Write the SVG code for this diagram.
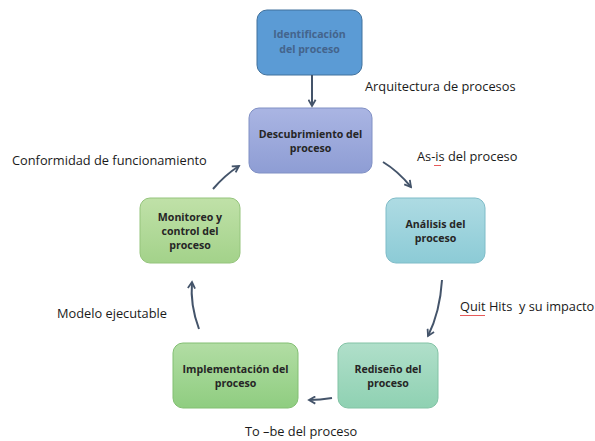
<svg xmlns="http://www.w3.org/2000/svg" width="595" height="441" viewBox="0 0 595 441">
<defs>
<linearGradient id="gDesc" x1="0" y1="0" x2="0" y2="1"><stop offset="0" stop-color="#aab5e3"/><stop offset="1" stop-color="#8e9dd4"/></linearGradient>
<linearGradient id="gAna" x1="0" y1="0" x2="0" y2="1"><stop offset="0" stop-color="#aedbe3"/><stop offset="1" stop-color="#8ccbd6"/></linearGradient>
<linearGradient id="gMon" x1="0" y1="0" x2="0" y2="1"><stop offset="0" stop-color="#c0e1a8"/><stop offset="1" stop-color="#a3d28a"/></linearGradient>
<linearGradient id="gImp" x1="0" y1="0" x2="0" y2="1"><stop offset="0" stop-color="#b2dda4"/><stop offset="1" stop-color="#8fcd80"/></linearGradient>
<linearGradient id="gRed" x1="0" y1="0" x2="0" y2="1"><stop offset="0" stop-color="#b0dfca"/><stop offset="1" stop-color="#8fd1b2"/></linearGradient>
<marker id="ah" viewBox="0 0 10 10" refX="8" refY="5" markerWidth="4.5" markerHeight="4.5" orient="auto"><path d="M1,1 L8,5 L1,9" fill="none" stroke="#44546a" stroke-width="2"/></marker>
</defs>
<style>
.box{stroke-width:1}
.bt{font-family:"Open Sans","Liberation Sans",sans-serif;font-weight:bold;font-size:10.6px;fill:#262626;text-anchor:middle}
.lb{font-family:"Open Sans","Liberation Sans",sans-serif;font-size:12.8px;fill:#1a1a1a;white-space:pre}
.cn{fill:none;stroke:#44546a;stroke-width:2;marker-end:url(#ah)}
</style>
<rect width="595" height="441" fill="#ffffff"/>
<g id="identificacion">
<rect class="box" x="257" y="10" width="105" height="65" rx="10" fill="#5b9bd5" stroke="#41719c"/>
<text class="bt" style="fill:#44648c" x="309.5" y="38">Identificación</text>
<text class="bt" style="fill:#44648c" x="309.5" y="53">del proceso</text>
</g>
<g id="descubrimiento">
<rect class="box" x="249" y="108" width="123" height="65" rx="10" fill="url(#gDesc)" stroke="#8090c4"/>
<text class="bt" x="310.5" y="138">Descubrimiento del</text>
<text class="bt" x="310.5" y="152">proceso</text>
</g>
<g id="analisis">
<rect class="box" x="386" y="198" width="99" height="65" rx="10" fill="url(#gAna)" stroke="#7fbcc8"/>
<text class="bt" x="435.5" y="228">Análisis del</text>
<text class="bt" x="435.5" y="242">proceso</text>
</g>
<g id="monitoreo">
<rect class="box" x="140" y="198" width="100" height="65" rx="10" fill="url(#gMon)" stroke="#95c47c"/>
<text class="bt" x="190" y="221">Monitoreo y</text>
<text class="bt" x="190" y="235">control del</text>
<text class="bt" x="190" y="249">proceso</text>
</g>
<g id="implementacion">
<rect class="box" x="173" y="343" width="125" height="65" rx="10" fill="url(#gImp)" stroke="#82bf72"/>
<text class="bt" x="235.5" y="373">Implementación del</text>
<text class="bt" x="235.5" y="387">proceso</text>
</g>
<g id="rediseno">
<rect class="box" x="338" y="343" width="100" height="65" rx="10" fill="url(#gRed)" stroke="#82c3a5"/>
<text class="bt" x="388" y="373">Rediseño del</text>
<text class="bt" x="388" y="387">proceso</text>
</g>
<g id="connectors">
<path class="cn" d="M312,75 L312,106"/>
<path class="cn" d="M383,162 Q398,171 411,187"/>
<path class="cn" d="M442,280 Q440,312 428,336"/>
<path class="cn" d="M332,398 Q320,400 309,400"/>
<path class="cn" d="M199,329 Q190,305 192,282"/>
<path class="cn" d="M213,189 Q225,175 239,166"/>
</g>
<g id="labels">
<text class="lb" x="365" y="91">Arquitectura de procesos</text>
<text class="lb" x="417" y="161">As-is del proceso</text>
<text class="lb" x="12" y="165">Conformidad de funcionamiento</text>
<text class="lb" x="460" y="311" xml:space="preserve">Quit Hits  y su impacto</text>
<text class="lb" x="57" y="318">Modelo ejecutable</text>
<text class="lb" x="245" y="436">To –be del proceso</text>
<path d="M434,165 l1,1 l1,-1 l1,1 l1,-1 l1,1 l1,-1 l1,1" fill="none" stroke="#e03030" stroke-width="0.8"/>
<path d="M460,315 l1,1 l1,-1 l1,1 l1,-1 l1,1 l1,-1 l1,1 l1,-1 l1,1 l1,-1 l1,1 l1,-1 l1,1 l1,-1 l1,1 l1,-1 l1,1 l1,-1 l1,1 l1,-1 l1,1 l1,-1 l1,1 l1,-1 l1,1" fill="none" stroke="#e03030" stroke-width="0.8"/>
</g>
</svg>
